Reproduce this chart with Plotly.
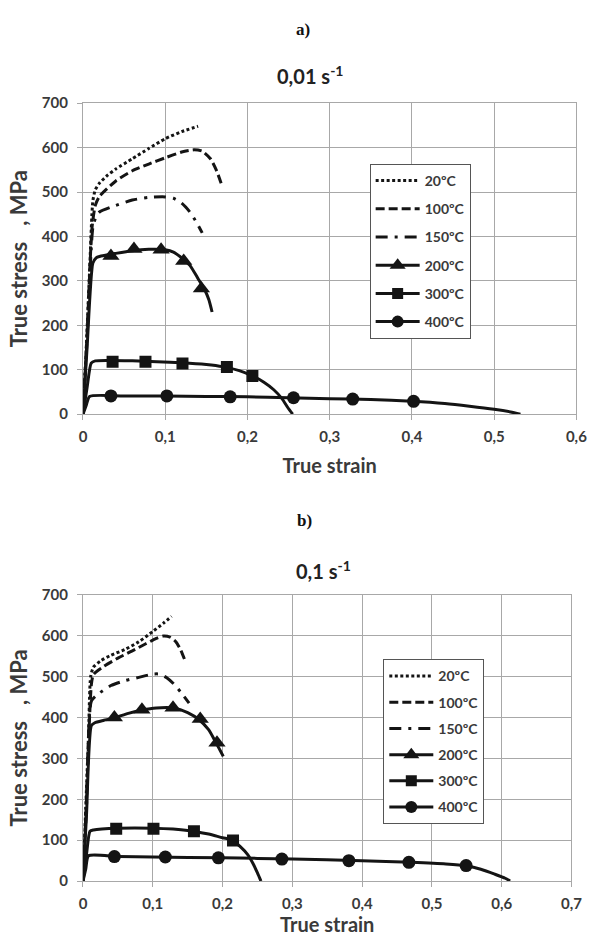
import plotly.graph_objects as go

# ---------------- data ----------------
temps = ["20ºC", "100ºC", "150ºC", "200ºC", "300ºC", "400ºC"]

# panel a) 0,01 s-1
a_20_x = [0, 0.004, 0.008, 0.012, 0.015, 0.02, 0.03, 0.04, 0.06, 0.08, 0.10, 0.12, 0.14]
a_20_y = [0, 150, 320, 480, 505, 520, 538, 552, 575, 598, 620, 636, 648]
a_100_x = [0, 0.005, 0.011, 0.015, 0.02, 0.04, 0.06, 0.08, 0.10, 0.12, 0.135, 0.145, 0.155, 0.162, 0.168]
a_100_y = [0, 180, 420, 470, 490, 525, 548, 563, 577, 590, 595, 592, 575, 550, 520]
a_150_x = [0, 0.005, 0.012, 0.016, 0.02, 0.04, 0.06, 0.08, 0.10, 0.11, 0.12, 0.13, 0.138, 0.145]
a_150_y = [0, 170, 420, 445, 455, 470, 482, 488, 489, 486, 475, 455, 432, 408]
a_200_x = [0, 0.005, 0.012, 0.016, 0.02, 0.04, 0.06, 0.08, 0.10, 0.11, 0.12, 0.13, 0.14, 0.148, 0.153, 0.157]
a_200_y = [0, 150, 340, 352, 355, 362, 368, 371, 370, 365, 352, 335, 305, 280, 258, 230]
a_200_mx = [0.034, 0.062, 0.095, 0.1225, 0.144]
a_200_my = [356, 372, 370, 345, 283]
a_300_x = [0, 0.005, 0.01, 0.015, 0.03, 0.06, 0.09, 0.12, 0.15, 0.17, 0.19, 0.205, 0.22, 0.232, 0.242, 0.249, 0.255]
a_300_y = [0, 60, 115, 120, 121, 120, 118, 116, 112, 107, 98, 87, 72, 55, 35, 15, 0]
a_300_mx = [0.036, 0.076, 0.121, 0.175, 0.206]
a_300_my = [118, 118, 114, 106, 86]
a_400_x = [0, 0.004, 0.008, 0.05, 0.1, 0.15, 0.2, 0.25, 0.3, 0.35, 0.4, 0.44, 0.47, 0.5, 0.52, 0.532]
a_400_y = [0, 20, 40, 41, 41, 40, 39, 37, 35, 33, 29, 24, 18, 11, 5, 0]
a_400_mx = [0.034, 0.102, 0.179, 0.256, 0.328, 0.402]
a_400_my = [41, 41, 39, 37, 34, 29]

# panel b) 0,1 s-1
b_20_x = [0, 0.004, 0.008, 0.011, 0.015, 0.025, 0.04, 0.06, 0.08, 0.10, 0.115, 0.127]
b_20_y = [0, 180, 360, 500, 523, 538, 552, 566, 585, 610, 630, 647]
b_100_x = [0, 0.005, 0.012, 0.015, 0.03, 0.05, 0.07, 0.09, 0.105, 0.115, 0.125, 0.133, 0.14, 0.146]
b_100_y = [0, 200, 480, 505, 525, 545, 562, 580, 593, 599, 596, 585, 565, 540]
b_150_x = [0, 0.005, 0.012, 0.02, 0.04, 0.06, 0.08, 0.10, 0.11, 0.12, 0.13, 0.14, 0.152]
b_150_y = [0, 180, 440, 455, 478, 490, 498, 506, 506, 497, 482, 462, 435]
b_200_x = [0, 0.005, 0.012, 0.017, 0.03, 0.045, 0.065, 0.085, 0.105, 0.13, 0.15, 0.166, 0.18, 0.19, 0.197, 0.201]
b_200_y = [0, 160, 380, 387, 393, 399, 410, 418, 423, 423, 412, 395, 370, 340, 318, 305]
b_200_mx = [0.045, 0.0845, 0.129, 0.168, 0.192]
b_200_my = [400, 419, 424, 396, 338]
b_300_x = [0, 0.005, 0.01, 0.015, 0.05, 0.1, 0.15, 0.18, 0.2, 0.213, 0.225, 0.236, 0.244, 0.25, 0.255]
b_300_y = [0, 65, 122, 125, 129, 129, 124, 115, 106, 101, 85, 65, 42, 20, 0]
b_300_mx = [0.0476, 0.101, 0.159, 0.215]
b_300_my = [128, 128, 122, 99]
b_400_x = [0, 0.004, 0.008, 0.05, 0.1, 0.2, 0.3, 0.4, 0.47, 0.52, 0.55, 0.57, 0.59, 0.605, 0.612]
b_400_y = [0, 30, 62, 60, 59, 57, 54, 50, 46, 42, 37, 29, 17, 7, 0]
b_400_mx = [0.045, 0.118, 0.194, 0.285, 0.381, 0.467, 0.549]
b_400_my = [60, 59, 57, 54, 50, 46, 38]

# ticks
a_xtick_vals = [0, 0.1, 0.2, 0.3, 0.4, 0.5, 0.6]
a_xtick_text = ["0", "0,1", "0,2", "0,3", "0,4", "0,5", "0,6"]
b_xtick_vals = [0, 0.1, 0.2, 0.3, 0.4, 0.5, 0.6, 0.7]
b_xtick_text = ["0", "0,1", "0,2", "0,3", "0,4", "0,5", "0,6", "0,7"]
ytick_vals = [0, 100, 200, 300, 400, 500, 600, 700]
ytick_text = ["0", "100", "200", "300", "400", "500", "600", "700"]

panel_a_label = "a)"
panel_b_label = "b)"
panel_a_title = "0,01 s<sup>-1</sup>"
panel_b_title = "0,1 s<sup>-1</sup>"
x_title = "True strain"
y_title = "True stress   , MPa"

# ---------------- styling ----------------
W, H = 602, 948
INK = "#141414"
GRID = "#a8a8a8"
TXT = "#3a3a3a"
FONT = "Lato"

line_styles = {
    "20ºC": dict(dash="3px,2.5px", width=3),
    "100ºC": dict(dash="9px,4px", width=3),
    "150ºC": dict(dash="12px,7px,3px,7px", width=3),
    "200ºC": dict(dash="solid", width=3),
    "300ºC": dict(dash="solid", width=3),
    "400ºC": dict(dash="solid", width=3),
}
marker_styles = {
    "200ºC": dict(symbol="triangle-up", size=15),
    "300ºC": dict(symbol="square", size=12),
    "400ºC": dict(symbol="circle", size=13),
}

panels = [
    dict(xa="x", ya="y", leg="legend", tag="a",
         series={
             "20ºC": (a_20_x, a_20_y, None, None),
             "100ºC": (a_100_x, a_100_y, None, None),
             "150ºC": (a_150_x, a_150_y, None, None),
             "200ºC": (a_200_x, a_200_y, a_200_mx, a_200_my),
             "300ºC": (a_300_x, a_300_y, a_300_mx, a_300_my),
             "400ºC": (a_400_x, a_400_y, a_400_mx, a_400_my),
         }),
    dict(xa="x2", ya="y2", leg="legend2", tag="b",
         series={
             "20ºC": (b_20_x, b_20_y, None, None),
             "100ºC": (b_100_x, b_100_y, None, None),
             "150ºC": (b_150_x, b_150_y, None, None),
             "200ºC": (b_200_x, b_200_y, b_200_mx, b_200_my),
             "300ºC": (b_300_x, b_300_y, b_300_mx, b_300_my),
             "400ºC": (b_400_x, b_400_y, b_400_mx, b_400_my),
         }),
]

fig = go.Figure()

for p in panels:
    for t in temps:
        sx, sy, mx, my = p["series"][t]
        grp = p["tag"] + t
        ls = line_styles[t]
        has_m = mx is not None
        fig.add_trace(go.Scatter(
            x=sx, y=sy, mode="lines", name=t,
            line=dict(color=INK, width=ls["width"], dash=ls["dash"], shape="spline", smoothing=0.6),
            xaxis=p["xa"], yaxis=p["ya"], legend=p["leg"], legendgroup=grp,
            showlegend=not has_m, hoverinfo="x+y+name"))
        if has_m:
            ms = marker_styles[t]
            fig.add_trace(go.Scatter(
                x=mx, y=my, mode="markers", name=t,
                marker=dict(color=INK, symbol=ms["symbol"], size=ms["size"]),
                xaxis=p["xa"], yaxis=p["ya"], legend=p["leg"], legendgroup=grp,
                showlegend=False))
            # legend entry showing line + marker
            fig.add_trace(go.Scatter(
                x=[None], y=[None], mode="lines+markers", name=t,
                line=dict(color=INK, width=ls["width"]),
                marker=dict(color=INK, symbol=ms["symbol"], size=ms["size"] - 1),
                xaxis=p["xa"], yaxis=p["ya"], legend=p["leg"], legendgroup=grp,
                showlegend=True))

def px_x(v):
    return v / W

def px_y(v):
    return 1 - v / H

tickfont = dict(family=FONT, size=15, color=TXT, weight="bold")
titlefont = dict(family=FONT, size=20, color=TXT, weight="bold")
ytitlefont = dict(family=FONT, size=22, color=TXT, weight="bold")

common_x = dict(showgrid=True, gridcolor=GRID, gridwidth=1, showline=True, linecolor=GRID,
                linewidth=1, mirror=True, ticks="outside", ticklen=5, tickcolor=GRID,
                tickfont=tickfont, zeroline=False, fixedrange=True, ticklabelstandoff=4)
common_y = dict(showgrid=True, gridcolor=GRID, gridwidth=1, showline=True, linecolor=GRID,
                linewidth=1, mirror=True, ticks="outside", ticklen=5, tickcolor=GRID,
                tickfont=tickfont, zeroline=False, fixedrange=True, ticklabelstandoff=6)

fig.update_layout(
    xaxis=dict(domain=[px_x(81), px_x(587)], range=[0, 0.6], anchor="y",
               tickvals=a_xtick_vals, ticktext=a_xtick_text,
               title=dict(text=x_title, font=titlefont, standoff=14), **common_x),
    yaxis=dict(domain=[px_y(412), px_y(95)], range=[0, 700], anchor="x",
               tickvals=ytick_vals, ticktext=ytick_text,
               title=dict(text=y_title, font=ytitlefont, standoff=8), **common_y),
    xaxis2=dict(domain=[px_x(81), px_x(582)], range=[0, 0.7], anchor="y2",
                tickvals=b_xtick_vals, ticktext=b_xtick_text,
                title=dict(text=x_title, font=titlefont, standoff=6), **common_x),
    yaxis2=dict(domain=[px_y(888), px_y(596)], range=[0, 700], anchor="x2",
                tickvals=ytick_vals, ticktext=ytick_text,
                title=dict(text=y_title, font=ytitlefont, standoff=8), **common_y),
)

legend_common = dict(bgcolor="white", bordercolor="#555555", borderwidth=1,
                     font=dict(family=FONT, size=14, color=TXT, weight="bold"),
                     itemwidth=44, xanchor="left", yanchor="top", traceorder="grouped",
                     itemclick=False, itemdoubleclick=False)

fig.update_layout(
    legend=dict(x=px_x(375), y=px_y(157), tracegroupgap=7, **legend_common),
    legend2=dict(x=px_x(389), y=px_y(662), tracegroupgap=5, **legend_common),
)

annots = [
    dict(text=panel_a_label, x=px_x(307), y=px_y(20), font=dict(family="Liberation Serif", size=17, color="#111", weight="bold")),
    dict(text=panel_a_title, x=px_x(314), y=px_y(66), font=dict(family=FONT, size=20, color="#222", weight="bold")),
    dict(text=panel_b_label, x=px_x(308), y=px_y(520), font=dict(family="Liberation Serif", size=17, color="#111", weight="bold")),
    dict(text=panel_b_title, x=px_x(328), y=px_y(571), font=dict(family=FONT, size=20, color="#222", weight="bold")),
]
for a in annots:
    fig.add_annotation(xref="paper", yref="paper", xanchor="center", yanchor="middle",
                       showarrow=False, **a)

fig.update_layout(
    width=W, height=H, margin=dict(l=0, r=0, t=0, b=0),
    paper_bgcolor="white", plot_bgcolor="white",
    font=dict(family=FONT, color=TXT),
    hovermode="closest",
)

fig.write_html("out.html", config={"displayModeBar": False},
               post_script="document.body.style.margin='0px';document.body.style.overflow='hidden';")
